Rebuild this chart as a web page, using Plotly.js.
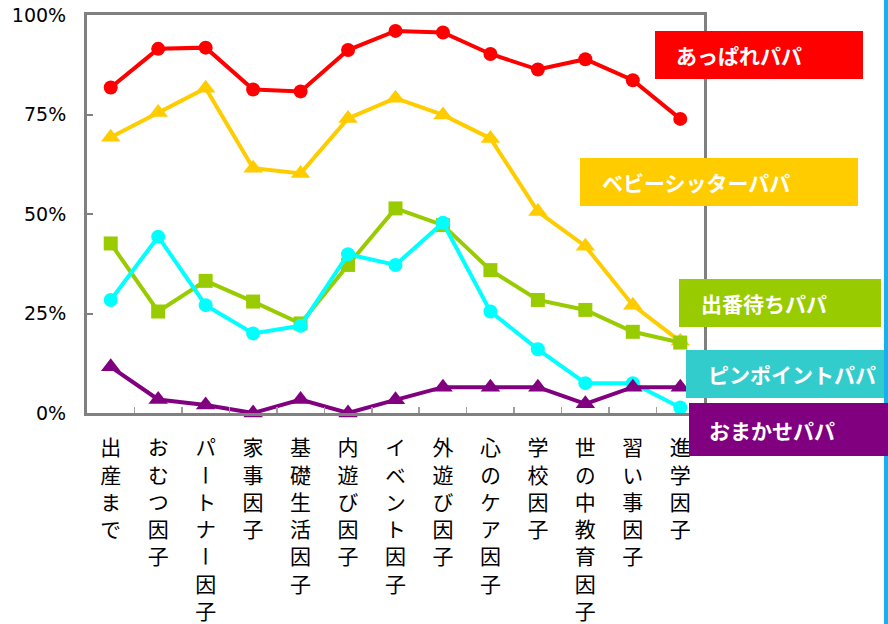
<!DOCTYPE html>
<html>
<head>
<meta charset="utf-8">
<script src="https://cdn.plot.ly/plotly-3.0.1.min.js"></script>
<style>
html,body{margin:0;padding:0;background:#fff;}
#chart{width:888px;height:624px;}
.xtick text{font-feature-settings:"vert" 1;}
</style>
</head>
<body>
<div id="chart"></div>
<script>
const categories = ['出産まで','おむつ因子','パートナー因子','家事因子','基礎生活因子','内遊び因子','イベント因子','外遊び因子','心のケア因子','学校因子','世の中教育因子','習い事因子','進学因子'];
const seriesNames = ['あっぱれパパ','ベビーシッターパパ','出番待ちパパ','ピンポイントパパ','おまかせパパ'];
const appare   = [81.8, 91.5, 91.8, 81.3, 80.8, 91.2, 96.0, 95.6, 90.2, 86.3, 88.9, 83.6, 73.9];
const baby     = [69.3, 75.5, 81.6, 61.5, 60.2, 74.0, 79.1, 74.9, 69.0, 50.6, 41.9, 27.1, 18.0];
const deban    = [42.6, 25.5, 33.2, 28.0, 22.5, 37.2, 51.4, 47.2, 35.9, 28.4, 25.9, 20.4, 17.7];
const pinpoint = [28.4, 44.3, 27.1, 20.0, 21.9, 39.9, 37.2, 47.8, 25.5, 16.0, 7.5, 7.5, 1.4];
const omakase  = [11.6, 3.4, 2.0, 0, 3.4, 0, 3.3, 6.5, 6.5, 6.5, 2.3, 6.5, 6.5];
const yTickVals = [0, 25, 50, 75, 100];
const yTickText = ['0%', '25%', '50%', '75%', '100%'];

const colors = ['#FF0000', '#FFCC00', '#99CC00', '#33CCCC', '#800080'];
const lineColors = ['#FF0000', '#FFCC00', '#99CC00', '#00FFFF', '#800080'];
const symbols = ['circle', 'triangle-up', 'square', 'circle', 'triangle-up'];
const msize = [14, 17, 14, 14, 17];
const allData = [appare, baby, deban, pinpoint, omakase];

const W = 888, H = 624, L = 87, R = 184, T = 15, B = 211;
const pw = W - L - R, ph = H - T - B;
const px2x = p => (p - L) / pw;
const px2y = p => (H - B - p) / ph;

const traces = allData.map((d, i) => ({
  type: 'scatter', mode: 'lines+markers',
  x: categories, y: d, name: seriesNames[i],
  line: {color: lineColors[i], width: 4},
  marker: {color: lineColors[i], symbol: symbols[i], size: msize[i], line: {width: 0}},
  cliponaxis: false, hoverinfo: 'skip'
}));

// legend boxes [left, top, right, bottom, textLeft] in px
const boxes = [
  [655, 31, 863, 79, 674],
  [580, 158, 858, 206, 600],
  [679, 279, 881, 327, 699],
  [686, 350, 884, 398, 706],
  [689, 403, 888, 456, 707]
];

const shapes = [{
  type: 'rect', xref: 'paper', yref: 'paper',
  x0: px2x(884), x1: px2x(888), y0: px2y(624), y1: px2y(0),
  fillcolor: '#17B0EC', line: {width: 0}, layer: 'above'
}];
const annotations = [];
boxes.forEach((b, i) => {
  shapes.push({
    type: 'rect', xref: 'paper', yref: 'paper',
    x0: px2x(b[0]), x1: px2x(b[2]), y0: px2y(b[3]), y1: px2y(b[1]),
    fillcolor: colors[i], line: {width: 0}, layer: 'above'
  });
  annotations.push({
    xref: 'paper', yref: 'paper', x: px2x(b[4]), y: px2y((b[1] + b[3]) / 2),
    xanchor: 'left', yanchor: 'middle', showarrow: false,
    text: seriesNames[i],
    font: {family: 'Noto Sans CJK JP', size: 21, color: '#FFFFFF', weight: 'bold'}
  });
});

const layout = {
  width: W, height: H,
  margin: {l: L, r: R, t: T, b: B, pad: 0},
  paper_bgcolor: '#FFFFFF', plot_bgcolor: '#FFFFFF',
  showlegend: false,
  xaxis: {
    type: 'category', range: [-0.5, 12.5],
    tickvals: categories, ticktext: categories.map(c => c.split('').join('<br>')),
    tickson: 'boundaries', ticks: 'inside', ticklen: 6, tickwidth: 1.5, tickcolor: '#A0A0A0',
    showline: true, linecolor: '#808080', linewidth: 3, mirror: true,
    showgrid: false, zeroline: false, tickangle: 0,
    ticklabelstandoff: 14,
    tickfont: {family: 'Noto Sans CJK JP', size: 21, color: '#000000'}
  },
  yaxis: {
    range: [0, 100], tickvals: yTickVals, ticktext: yTickText,
    ticks: 'inside', ticklen: 6, tickwidth: 2, tickcolor: '#808080',
    showline: true, linecolor: '#808080', linewidth: 3, mirror: true,
    showgrid: false, zeroline: false,
    ticklabelstandoff: 14,
    tickfont: {family: 'DejaVu Sans', size: 19, color: '#000000'}
  },
  shapes: shapes,
  annotations: annotations
};

Plotly.newPlot('chart', traces, layout, {displayModeBar: false, staticPlot: true});
</script>
</body>
</html>
